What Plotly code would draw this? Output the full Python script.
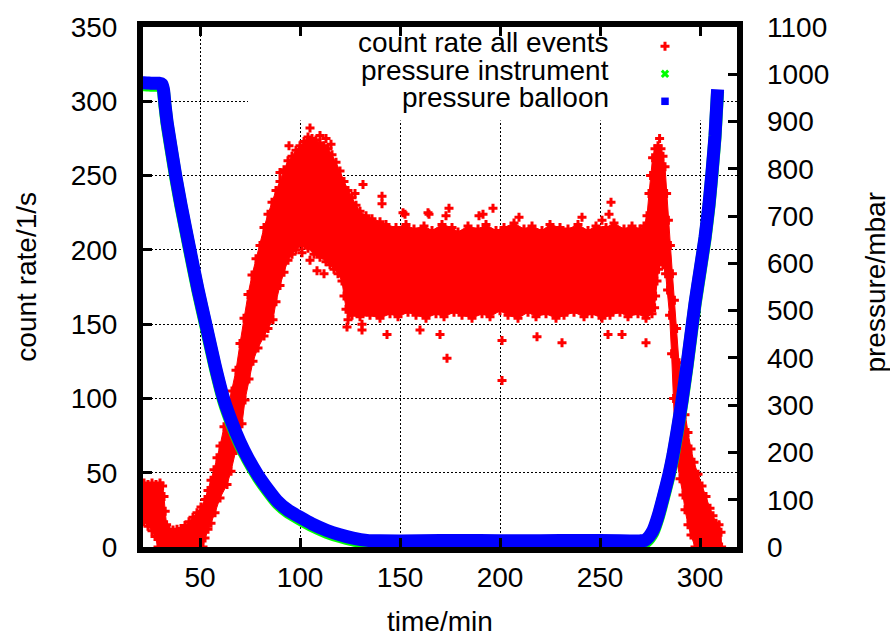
import plotly.graph_objects as go

# ---------------------------------------------------------------------------
# Count rate (1/s) of all events versus flight time (min).
# The dense cloud of samples is described by its outline, the isolated
# samples that stick out of the cloud are listed separately.
# ---------------------------------------------------------------------------
rate_outline_t = [
    19, 19.3, 20.5, 22, 24, 26, 28, 30, 31.3, 32, 32.6, 33.3, 34.5, 36.5, 38.5,
    40.5, 42.5, 44.5, 46.5, 48.5, 50.5, 52.5, 54, 55.5, 57, 58.5, 60, 62, 64, 66,
    68, 70, 72, 74, 76, 78, 80, 82, 84, 86, 88, 90, 92, 94, 96, 98, 100, 102,
    104, 106, 108, 110, 112, 114, 116, 118, 120, 122, 124, 126, 128, 130, 133,
    136, 140, 143, 148, 153, 157, 162, 166, 171, 176, 179, 184, 189, 193, 198,
    202, 207, 212, 216, 221, 225, 230, 234, 239, 244, 248, 253, 257, 262, 266,
    270, 272, 273.5, 274.5, 275.3, 276.3, 277.5, 279, 280.5, 281.5, 282.5, 283.3,
    284.2, 285.2, 286.2, 287.2, 288.3, 289.5, 291, 292.5, 294, 295.5, 297, 299,
    301, 303, 305, 306.5, 308, 309.5, 310.5, 310.8,
    # lower edge, running back towards the launch
    297.5, 295.5, 294, 292.5, 291.5, 290, 288.5, 287.5, 286.8, 285.8, 284.8,
    283.8, 282.8, 281.5, 280.3, 279.3, 278.5, 277.8, 277.3, 276, 273, 269, 264,
    260, 255, 251, 246, 242, 237, 232, 228, 223, 218, 214, 209, 204, 200, 195,
    191, 186, 181, 177, 172, 168, 163, 158, 154, 149, 145, 140, 135, 130, 126,
    124, 123, 122, 121, 119, 117, 115, 113, 110, 107, 104, 101, 98, 96, 94, 92,
    90, 88, 86.5, 84, 82, 79, 76.5, 74.5, 72.5, 71, 68, 65.5, 63.5, 60, 57.5,
    55.5, 54, 52.5, 51.5, 29, 27.5, 26, 24, 22, 20, 19,
]
rate_outline_c = [
    24, 38, 42, 43, 42, 43, 42, 43, 41, 34, 24, 15, 12, 11.5, 12,
    12.5, 14.5, 17, 20, 23, 27, 32, 38, 45, 52, 60, 68, 81, 93, 105,
    119, 137, 154, 170, 183, 194, 203, 215, 224, 232, 240, 246, 254, 260, 263,
    267, 270, 273, 276, 275, 274, 272, 270, 268, 264, 259, 253, 246, 240, 235,
    230, 226, 223, 221, 219, 217, 215, 217, 214, 216, 213, 217, 215, 212, 216,
    214, 217, 213, 215, 218, 214, 216, 213, 217, 215, 214, 217, 213, 216, 215,
    218, 214, 216, 214, 216, 223, 238, 250, 262, 268, 270, 268, 263, 256,
    238, 220, 203, 184, 166, 147, 124, 104, 89, 77, 66, 57, 49, 41, 34, 26,
    21, 16, 15, 10, 0,
    0, 8, 15, 25, 35, 46, 57, 75, 100, 130, 156,
    173, 184, 190, 192, 187, 179, 169, 161, 157, 154, 157, 155,
    158, 156, 154, 157, 155, 158, 156, 154, 157, 155, 158, 154, 156, 159, 155,
    157, 154, 156, 158, 155, 157, 154, 156, 158, 155, 157, 154, 156, 155, 156,
    153, 160, 169, 179, 184, 187, 190, 192, 195, 197, 201, 203, 200, 197, 193,
    185, 176, 165, 153, 147, 142, 134, 125, 113, 99, 83, 65, 51, 42, 33, 23,
    16, 12, 6, 0, 0, 7, 11, 14, 17, 19, 21,
]

rate_single_t = [
    105, 94.5, 110, 113, 115.5, 90, 105, 108.5, 101, 112, 131.5, 127.5, 141, 141,
    151.5, 164, 152.5, 164.5, 174.5, 173, 189.5, 191.5, 196.5, 209.5, 241, 255.5,
    254.5, 251, 279.8, 123.5, 131, 131, 143.5, 160, 170, 173.5, 201, 201, 218.5,
    231, 254, 261, 273,
]
rate_single_c = [
    282, 270, 277, 275, 271, 252, 193, 186, 198, 184, 244, 238, 236, 231,
    225, 225, 224, 224, 228, 223, 223, 224, 228, 222, 222, 232,
    224, 220, 275, 148, 150, 146, 143, 146, 143, 127, 139, 112, 141.5,
    137.5, 143, 143, 137.5,
]

# Pressure (mbar) measured on the balloon and inside the instrument
balloon_t = [
    18, 22, 26, 29.5, 31, 31.8, 32.5, 33.5, 35, 37.8, 40.5, 45, 49, 53, 57.5, 62,
    66, 70, 74, 79, 84, 88.5, 94, 100, 106, 113.5, 120, 126.5, 133.5, 140, 160,
    180, 200, 220, 240, 260, 270, 272.5, 274.5, 276.5, 279, 281.5, 284.5, 286.5,
    288.5, 291, 293.5, 297.5, 300, 302.5, 304.5, 306, 307.5, 308.8,
]
balloon_p = [
    981, 982, 981, 981, 979, 966, 936, 900, 860, 787, 724, 628, 545, 470, 385, 311,
    263, 222, 188, 152, 122, 98, 78, 63, 49, 35, 26, 19, 14, 13, 13,
    14, 13, 13, 14, 13, 13, 14, 22, 35, 65, 104, 154, 195,
    244, 310, 385, 516, 585, 655, 725, 793, 870, 968,
]
instrument_t = list(balloon_t)
instrument_p = [
    977, 978, 977, 977, 975, 962, 932, 896, 856, 783, 720, 624, 541, 466, 381, 307,
    259, 218, 184, 148, 118, 94, 74, 59, 45, 31, 22, 15, 10, 9, 9,
    10, 9, 9, 10, 9, 9, 10, 18, 31, 61, 100, 150, 191,
    240, 306, 381, 512, 581, 651, 721, 789, 866, 964,
]

series_names = ["count rate all events", "pressure instrument", "pressure balloon"]
x_ticks = [50, 100, 150, 200, 250, 300]
rate_ticks = [0, 50, 100, 150, 200, 250, 300, 350]
pressure_ticks = list(range(0, 1101, 100))

RED, GREEN, BLUE = "#ff0000", "#00ff00", "#0000ff"
FONT = "Liberation Sans, Arial, sans-serif"
FS = 28

fig = go.Figure()

# count rate cloud: filled outline, its edge samples drawn as '+' marks
fig.add_trace(go.Scatter(
    x=rate_outline_t, y=rate_outline_c, mode="lines+markers", fill="toself",
    fillcolor=RED, line=dict(color=RED, width=1),
    marker=dict(symbol="cross", size=7.5, color=RED, line=dict(width=0)),
    hoverinfo="skip", showlegend=False,
))
fig.add_trace(go.Scatter(
    x=rate_single_t, y=rate_single_c, mode="markers",
    marker=dict(symbol="cross", size=7.5, color=RED, line=dict(width=0)),
    showlegend=False,
))

# pressure curves (instrument underneath the balloon sensor)
fig.add_trace(go.Scatter(
    x=instrument_t, y=instrument_p, yaxis="y2", mode="lines",
    line=dict(color=GREEN, width=13, shape="spline", smoothing=0.3),
    showlegend=False,
))
fig.add_trace(go.Scatter(
    x=balloon_t, y=balloon_p, yaxis="y2", mode="lines",
    line=dict(color=BLUE, width=13, shape="spline", smoothing=0.3),
    showlegend=False,
))

# key: text right aligned, sample symbol to the right
key_c = [339.5, 321, 302.5]
key_symbols = ["cross", "x", "square"]
key_colors = [RED, GREEN, BLUE]
for name, c, sym, col in zip(series_names, key_c, key_symbols, key_colors):
    fig.add_annotation(x=255.5, y=c, xref="x", yref="y", text=name,
                       showarrow=False, xanchor="right", yanchor="middle",
                       font=dict(family=FONT, size=FS, color="black"))
    fig.add_trace(go.Scatter(
        x=[282.5], y=[c - 2.5], mode="markers", cliponaxis=False,
        marker=dict(symbol=sym, size=7.5, color=col, line=dict(width=0)),
        showlegend=False, hoverinfo="skip",
    ))

# opaque key background hides the grid behind it
fig.add_shape(type="rect", xref="x", yref="y", x0=74, x1=306, y0=287, y1=350,
              fillcolor="white", line=dict(width=0), layer="between")

axis_common = dict(
    ticks="inside", ticklen=9, tickwidth=3, tickcolor="black",
    tickfont=dict(family=FONT, size=FS, color="black"),
    zeroline=False,
)
grid_style = dict(showgrid=True, gridcolor="black", gridwidth=1,
                  griddash="1.5px,2.5px")

fig.update_layout(
    width=890, height=638,
    margin=dict(l=143, r=153, t=20, b=91),
    paper_bgcolor="white", plot_bgcolor="white",
    showlegend=False,
    xaxis=dict(
        range=[21.5, 318.5], tickvals=x_ticks,
        showline=True, linewidth=6, linecolor="black", mirror="ticks",
        ticklabelstandoff=0, **grid_style, **axis_common,
    ),
    yaxis=dict(
        range=[0, 350], tickvals=rate_ticks,
        showline=True, linewidth=6, linecolor="black", mirror=True,
        ticklabelstandoff=14, **grid_style, **axis_common,
    ),
    yaxis2=dict(
        range=[0, 1100], tickvals=pressure_ticks, overlaying="y", side="right",
        showline=False, showgrid=False, ticklabelstandoff=29,
        **axis_common,
    ),
)

# axis titles, positioned in pixels and converted to paper coordinates
pw, ph = 890 - 143 - 153, 638 - 20 - 91
titles = [
    ("count rate/1/s", 27, 273, -90),
    ("pressure/mbar", 876, 279, -90),
    ("time/min", 440, 622, 0),
]
for text, px, py, angle in titles:
    fig.add_annotation(x=(px - 143) / pw, y=1 - (py - 20) / ph,
                       xref="paper", yref="paper", text=text, showarrow=False,
                       textangle=angle, xanchor="center", yanchor="middle",
                       font=dict(family=FONT, size=FS, color="black"))

fig.write_html("out.html")
